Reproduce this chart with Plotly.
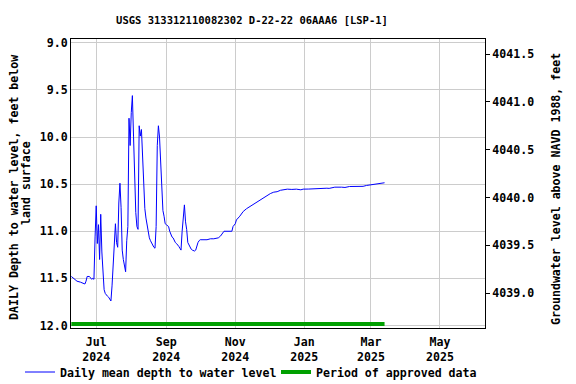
import pandas as pd
import plotly.graph_objects as go

# ---------------- data ----------------
early_dates = ["2024-06-09", "2024-06-11", "2024-06-14", "2024-06-17", "2024-06-19",
               "2024-06-21", "2024-06-22", "2024-06-23", "2024-06-25", "2024-06-26",
               "2024-06-27", "2024-06-28", "2024-06-29"]
early_depth = [11.48, 11.50, 11.53, 11.54, 11.55, 11.56, 11.53, 11.48, 11.48, 11.49,
               11.51, 11.50, 11.51]

# daily values from 2024-06-30 through 2024-10-01
daily_start = "2024-06-30"
daily_depth = [11.06, 10.73, 11.13, 10.93, 11.30, 10.82, 11.22, 11.50, 11.62, 11.66,
               11.68, 11.69, 11.70, 11.72, 11.74, 11.58, 11.30, 11.05, 10.92, 11.12,
               11.17, 10.70, 10.49, 10.75, 11.20, 11.30, 11.37, 11.43, 11.10, 10.95,
               9.80, 10.09, 9.74, 9.56, 9.99, 10.55, 10.80, 10.95, 10.98, 9.88,
               9.99, 9.92, 10.24, 10.60, 10.76, 10.86, 10.95, 11.03, 11.07, 11.10,
               11.13, 11.15, 11.17, 11.18, 10.95, 10.09, 9.88, 10.00, 10.31, 10.55,
               10.78, 10.84, 10.92, 10.93, 10.94, 10.95, 11.00, 11.04, 11.06, 11.07,
               11.10, 11.12, 11.13, 11.14, 11.16, 11.18, 11.20, 11.00, 10.80, 10.72,
               10.90, 10.98, 11.12, 11.15, 11.18, 11.19, 11.20, 11.21, 11.21, 11.20,
               11.14, 11.12, 11.10, 11.09]

late_dates = ["2024-10-07", "2024-10-10", "2024-10-13", "2024-10-17", "2024-10-19",
              "2024-10-21", "2024-10-22", "2024-10-29", "2024-10-30", "2024-11-01",
              "2024-11-02", "2024-11-05", "2024-11-08", "2024-11-11", "2024-11-15",
              "2024-11-18", "2024-11-22", "2024-11-26", "2024-11-29", "2024-12-02",
              "2024-12-05", "2024-12-08", "2024-12-11", "2024-12-14", "2024-12-17",
              "2024-12-21", "2024-12-25", "2024-12-29", "2024-12-31", "2025-01-05",
              "2025-01-09", "2025-01-12", "2025-01-16", "2025-01-21", "2025-01-23",
              "2025-01-28", "2025-02-03", "2025-02-06", "2025-02-10", "2025-02-15",
              "2025-02-19", "2025-02-22", "2025-02-25", "2025-03-01", "2025-03-05",
              "2025-03-09", "2025-03-13"]
late_depth = [11.09, 11.08, 11.08, 11.07, 11.05, 11.02, 11.00, 11.00, 10.95, 10.92,
              10.88, 10.84, 10.79, 10.76, 10.73, 10.70, 10.67, 10.645, 10.62, 10.60,
              10.585, 10.58, 10.565, 10.555, 10.553, 10.556, 10.553, 10.56, 10.553, 10.552,
              10.549, 10.543, 10.545, 10.543, 10.545, 10.532, 10.532, 10.535, 10.525, 10.525,
              10.521, 10.523, 10.514, 10.506, 10.50, 10.489, 10.485]

approved_start = "2024-06-09"
approved_end = "2025-03-13"
approved_level = 11.985

tick_dates = ["2024-07-01", "2024-09-01", "2024-11-01", "2025-01-01", "2025-03-01", "2025-05-01"]
tick_text = ["Jul<br>2024", "Sep<br>2024", "Nov<br>2024", "Jan<br>2025", "Mar<br>2025", "May<br>2025"]
left_ticks = [9.0, 9.5, 10.0, 10.5, 11.0, 11.5, 12.0]
right_ticks = [4039.0, 4039.5, 4040.0, 4040.5, 4041.0, 4041.5]

title_text = "USGS 313312110082302 D-22-22 06AAA6 [LSP-1]"
left_title_1 = "DAILY Depth to water level, feet below"
left_title_2 = "land surface"
right_title = "Groundwater level above NAVD 1988, feet"

# ---------------- build ----------------
daily_dates = pd.date_range(daily_start, periods=len(daily_depth), freq="D").strftime("%Y-%m-%d").tolist()
dates = early_dates + daily_dates + late_dates
depth = early_depth + daily_depth + late_depth

FONT = "DejaVu Sans Mono"
BLUE = "#0000FF"
GREEN = "#00A000"
GRID = "#CCCCCC"

# the page body adds an 8px offset, so the figure is 8px smaller than the window
W, H = 568, 376
L, R, T, B = 63, 91, 31, 56
PW, PH = W - L - R, H - T - B

fig = go.Figure()
fig.add_trace(go.Scatter(
    x=dates, y=depth, mode="lines", name="Daily mean depth to water level",
    line=dict(color=BLUE, width=1), yaxis="y", legend="legend"))
fig.add_trace(go.Scatter(
    x=[approved_start, approved_end], y=[approved_level, approved_level], mode="lines",
    name="Period of approved data", line=dict(color=GREEN, width=4), yaxis="y",
    legend="legend2"))
fig.add_trace(go.Scatter(x=[], y=[], yaxis="y2", showlegend=False, hoverinfo="skip"))

bold = dict(family=FONT, size=11.6, color="black", weight="bold")


def vtitle(text, xpx, ypx):
    return dict(text=text, xref="paper", yref="paper", x=(xpx - L) / PW,
                y=1 - (ypx - T) / PH, xanchor="center", yanchor="middle",
                showarrow=False, textangle=-90, font=bold)


def legend_at(xpx):
    return dict(orientation="h", xref="paper", x=(xpx - L) / PW, xanchor="left",
                yref="paper", y=-(364 - (T + PH)) / PH, yanchor="middle",
                font=bold, bgcolor="rgba(0,0,0,0)", borderwidth=0, itemwidth=30)


fig.update_layout(
    width=W, height=H,
    margin=dict(l=L, r=R, t=T, b=B, autoexpand=False),
    paper_bgcolor="white", plot_bgcolor="white",
    font=bold,
    title=dict(text=title_text, x=244 / W, xref="container", xanchor="center",
               y=1 - 12 / H, yref="container", yanchor="middle",
               font=dict(family=FONT, size=10.5, color="black", weight="bold")),
    xaxis=dict(range=["2024-06-08 17:00", "2025-06-09 20:00"], type="date",
               tickvals=tick_dates, ticktext=tick_text, tickfont=bold,
               showgrid=True, gridcolor=GRID, gridwidth=1,
               showline=True, linecolor="black", linewidth=1, mirror=True,
               ticks="", zeroline=False, automargin=False, ticklabelstandoff=3),
    yaxis=dict(range=[12.027, 8.959], tickvals=left_ticks,
               ticktext=[f"{v:.1f}" for v in left_ticks], tickfont=bold,
               showgrid=True, gridcolor=GRID, gridwidth=1,
               showline=True, linecolor="black", linewidth=1, mirror=True,
               ticks="", zeroline=False, automargin=False),
    yaxis2=dict(range=[4038.637, 4041.657], overlaying="y", side="right", anchor="x",
                tickvals=right_ticks, ticktext=[f"{v:.1f}" for v in right_ticks],
                tickfont=bold, showgrid=False, showline=True, linecolor="black",
                linewidth=1, ticks="outside", ticklen=4, tickcolor="black",
                zeroline=False, automargin=False),
    showlegend=True,
    legend=legend_at(12),
    legend2=legend_at(268),
    annotations=[
        vtitle(left_title_1, 6, 180),
        vtitle(left_title_2, 18, 175),
        vtitle(right_title, 548, 181),
    ],
)

fig.write_html("out.html")
